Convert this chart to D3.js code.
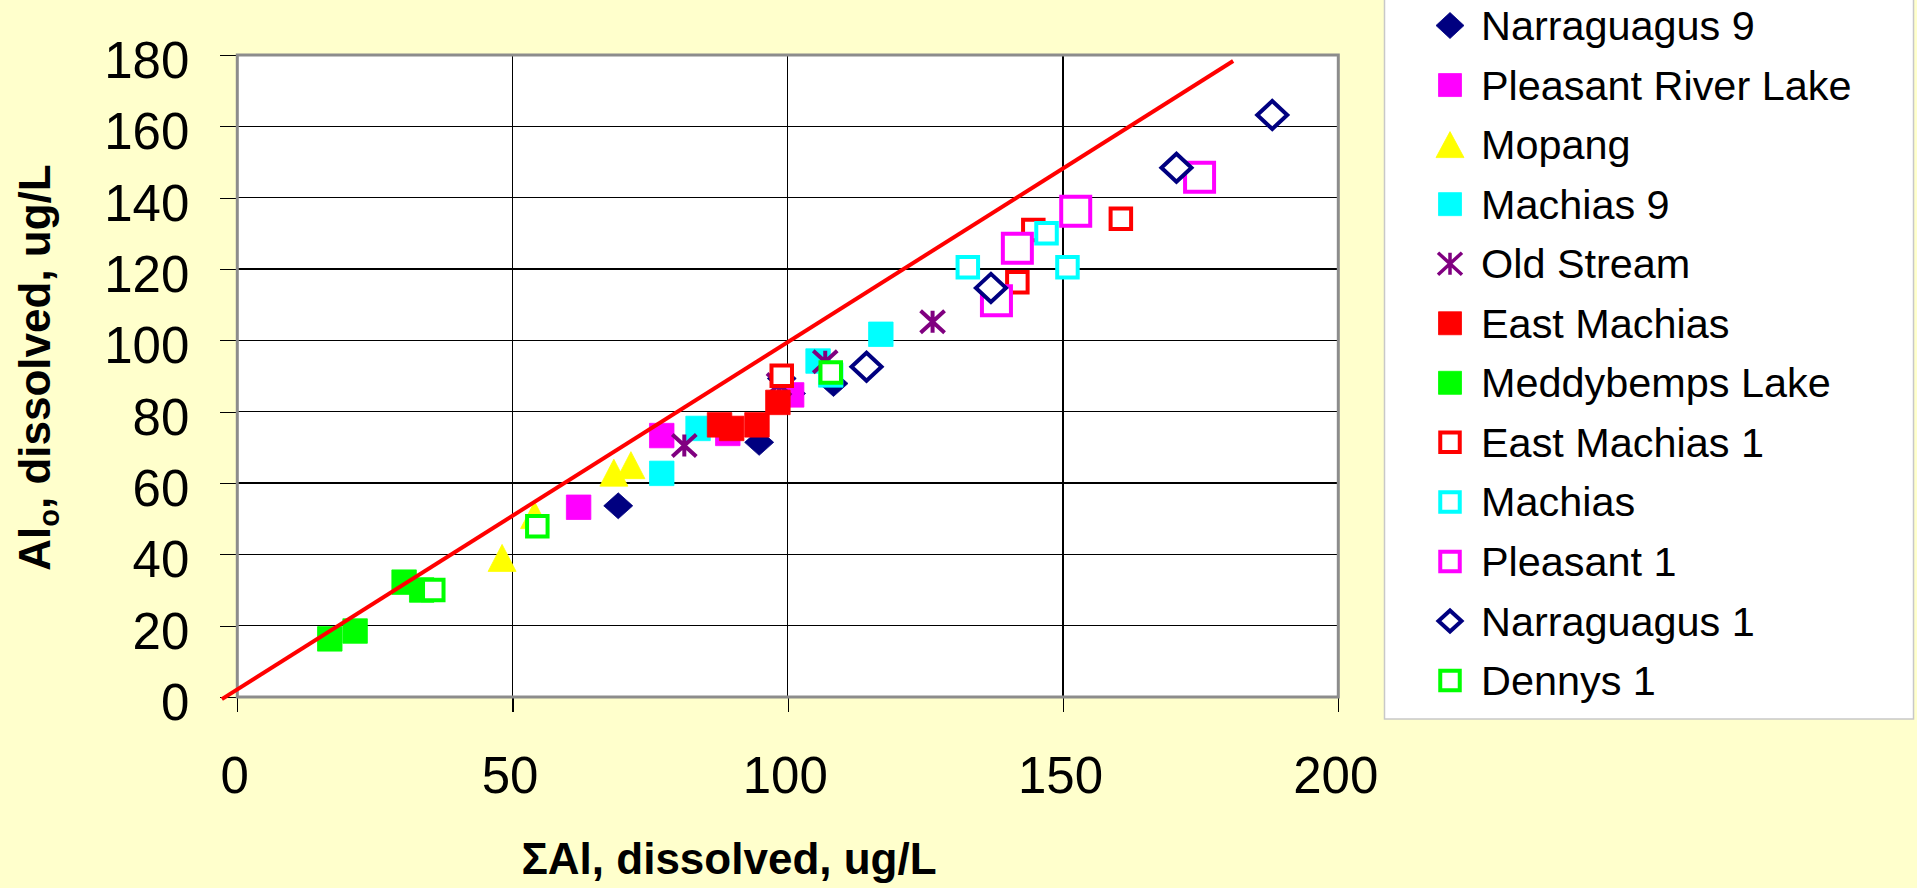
<!DOCTYPE html>
<html>
<head>
<meta charset="utf-8">
<script src="https://cdn.jsdelivr.net/npm/d3@7"></script>
<style>
  html, body { margin: 0; padding: 0; background: #FFFFCC; }
  svg { display: block; font-family: "Liberation Sans", Arial, sans-serif; }
</style>
</head>
<body>
<svg id="chart" width="1917" height="888"></svg>
<script>
// Dissolved aluminium: total (x) vs. organic (y), ug/L, per sampling site
const xTicks = [0, 50, 100, 150, 200];
const yTicks = [0, 20, 40, 60, 80, 100, 120, 140, 160, 180];

const narraguagus9 = [[69.2, 53.6], [94.8, 71.4], [98.9, 89.3], [100.6, 85.1], [108.3, 87.9]];
const pleasantRiverLake = [[62.0, 53.2], [77.1, 73.3], [89.1, 73.9], [100.7, 84.7]];
const mopang = [[48.1, 39.0], [54.0, 51.0], [68.4, 62.9], [71.5, 65.0]];
const machias9 = [[77.1, 62.7], [83.7, 75.3], [105.5, 94.2], [107.8, 90.3], [116.9, 101.7]];
const oldStream = [[81.2, 70.5], [98.4, 87.6], [106.8, 94.0], [126.3, 105.2]];
const eastMachias = [[87.6, 76.3], [89.8, 75.3], [94.4, 76.3], [98.2, 82.6]];
const meddybempsLake = [[16.8, 16.3], [21.4, 18.5], [30.3, 32.2], [33.5, 30.0]];
const eastMachias1 = [[98.9, 90.1], [141.7, 116.3], [144.6, 130.9], [160.5, 134.1]];
const machias = [[132.7, 120.5], [150.8, 120.5], [147.0, 130.0]];
const pleasant1 = [[137.9, 111.1], [141.7, 125.8], [152.3, 136.2], [174.8, 145.7]];
const narraguagus1 = [[114.3, 92.6], [136.9, 114.7], [170.6, 148.4], [188.0, 163.2]];
const dennys1 = [[35.6, 30.0], [54.5, 47.9], [107.8, 91.0]];

// Reference line endpoints (x, y)
const refLine = [[-2.8, -0.6], [180.9, 178.3]];

// Marker geometry helpers
const shapes = {
  diamond: (w, h) => `M0,${-h}L${w},0L0,${h}L${-w},0Z`,
  square: (s) => `M${-s/2},${-s/2}H${s/2}V${s/2}H${-s/2}Z`,
  triangle: (w, h) => `M0,${-h}L${w},${h}L${-w},${h}Z`,
  star: (w, h) => `M${-w},${-h}L${w},${h}M${-w},${h}L${w},${-h}M0,${-h}V${h}`
};

// kind: "solid" filled marker, "open" hollow marker on white, "star" stroked only
const series = [
  { name: "Narraguagus 9", data: narraguagus9, color: "#000080", kind: "solid", path: shapes.diamond(14.5, 13), legend: shapes.diamond(14, 13) },
  { name: "Pleasant River Lake", data: pleasantRiverLake, color: "#FF00FF", kind: "solid", path: shapes.square(24.5), legend: shapes.square(23) },
  { name: "Mopang", data: mopang, color: "#FFFF00", kind: "solid", path: shapes.triangle(14, 13.5), legend: shapes.triangle(14, 13) },
  { name: "Machias 9", data: machias9, color: "#00FFFF", kind: "solid", path: shapes.square(24.5), legend: shapes.square(23) },
  { name: "Old Stream", data: oldStream, color: "#800080", kind: "star", path: shapes.star(12, 11), legend: shapes.star(12, 11) },
  { name: "East Machias", data: eastMachias, color: "#FF0000", kind: "solid", path: shapes.square(24.5), legend: shapes.square(23) },
  { name: "Meddybemps Lake", data: meddybempsLake, color: "#00FF00", kind: "solid", path: shapes.square(24.5), legend: shapes.square(23) },
  { name: "East Machias 1", data: eastMachias1, color: "#FF0000", kind: "open", path: shapes.square(20.5), legend: shapes.square(19.5) },
  { name: "Machias", data: machias, color: "#00FFFF", kind: "open", path: shapes.square(20.5), legend: shapes.square(19.5) },
  { name: "Pleasant 1", data: pleasant1, color: "#FF00FF", kind: "open", path: shapes.square(29), legend: shapes.square(19.5) },
  { name: "Narraguagus 1", data: narraguagus1, color: "#000080", kind: "open", path: shapes.diamond(15, 14), legend: shapes.diamond(11.5, 10.5) },
  { name: "Dennys 1", data: dennys1, color: "#00FF00", kind: "open", path: shapes.square(20.5), legend: shapes.square(19.5) }
];

const fillOf = s => s.kind === "solid" ? s.color : (s.kind === "open" ? "#FFFFFF" : "none");
const widthOf = s => s.kind === "solid" ? 0.8 : 4;

const svg = d3.select("#chart");

const plot = { left: 237.3, right: 1338.3, top: 55, bottom: 697 };

const x = d3.scaleLinear().domain([0, 200]).range([plot.left, plot.right]);
const y = d3.scaleLinear().domain([0, 180]).range([plot.bottom, plot.top]);

// Plot area
svg.append("rect")
  .attr("x", plot.left).attr("y", plot.top)
  .attr("width", plot.right - plot.left).attr("height", plot.bottom - plot.top)
  .attr("fill", "#FFFFFF");

// Gridlines
const grid = svg.append("g").attr("stroke", "#000").attr("stroke-width", 1.2).attr("shape-rendering", "crispEdges");
grid.selectAll("line.h").data(yTicks).join("line").attr("class", "h")
  .attr("x1", plot.left).attr("x2", plot.right)
  .attr("y1", d => y(d)).attr("y2", d => y(d));
grid.selectAll("line.v").data(xTicks).join("line").attr("class", "v")
  .attr("y1", plot.top).attr("y2", plot.bottom)
  .attr("x1", d => x(d)).attr("x2", d => x(d));

// Axes
const yAxis = svg.append("g")
  .attr("transform", `translate(${plot.left},0)`)
  .call(d3.axisLeft(y).tickValues(yTicks).tickSize(17).tickPadding(31).tickFormat(d3.format("d")));
const xAxis = svg.append("g")
  .attr("transform", `translate(0,${plot.bottom})`)
  .call(d3.axisBottom(x).tickValues(xTicks).tickSize(15).tickPadding(60).tickFormat(d3.format("d")));

[yAxis, xAxis].forEach(ax => {
  ax.select(".domain").remove();
  ax.selectAll(".tick line").attr("stroke", "#000").attr("stroke-width", 1.2).attr("shape-rendering", "crispEdges");
  ax.selectAll(".tick text")
    .attr("fill", "#000")
    .style("font-family", "'Liberation Sans', Arial, sans-serif")
    .style("font-size", "51px");
});
yAxis.selectAll(".tick text").attr("dy", "0.44em");
xAxis.selectAll(".tick text").attr("dy", "0.71em").attr("x", -3).attr("y", 60);

// Plot border
svg.append("rect")
  .attr("x", plot.left).attr("y", plot.top)
  .attr("width", plot.right - plot.left).attr("height", plot.bottom - plot.top)
  .attr("fill", "none").attr("stroke", "#8C8C8C").attr("stroke-width", 3);

// Series markers, drawn in series order
const marks = svg.append("g");
series.forEach(s => {
  marks.append("g").selectAll("path").data(s.data).join("path")
    .attr("transform", d => `translate(${x(d[0])},${y(d[1])})`)
    .attr("d", s.path)
    .attr("fill", fillOf(s))
    .attr("stroke", s.color)
    .attr("stroke-width", widthOf(s))
    .attr("stroke-linejoin", "miter");
});

// 1:1 reference line
svg.append("path")
  .datum(refLine)
  .attr("d", d3.line().x(d => x(d[0])).y(d => y(d[1])))
  .attr("stroke", "#FF0000").attr("stroke-width", 4).attr("fill", "none");

// Axis titles
svg.append("text")
  .attr("x", 729).attr("y", 874)
  .attr("text-anchor", "middle")
  .style("font-size", "44px").style("font-weight", "bold")
  .text("ΣAl, dissolved, ug/L");

const yTitle = svg.append("text")
  .attr("transform", "translate(50,367.5) rotate(-90)")
  .attr("text-anchor", "middle")
  .style("font-size", "44px").style("font-weight", "bold");
yTitle.append("tspan").text("Al");
yTitle.append("tspan").attr("dy", 9).style("font-size", "29px").text("o");
yTitle.append("tspan").attr("dy", -9).text(", dissolved, ug/L");

// Legend
const legend = svg.append("g");
legend.append("rect")
  .attr("x", 1384.5).attr("y", -5).attr("width", 529).attr("height", 724)
  .attr("fill", "#FFFFFF").attr("stroke", "#C8C8C8").attr("stroke-width", 1.5);

const rowY = i => 40 + 59.55 * i;
const items = legend.selectAll("g.item").data(series).join("g").attr("class", "item");
items.append("path")
  .attr("transform", (d, i) => `translate(1450,${rowY(i) - 14.5})`)
  .attr("d", d => d.legend)
  .attr("fill", d => fillOf(d))
  .attr("stroke", d => d.color)
  .attr("stroke-width", d => d.kind === "solid" ? 0.8 : (d.kind === "star" ? 3.5 : 4));
items.append("text")
  .attr("x", 1481).attr("y", (d, i) => rowY(i))
  .style("font-size", "41.4px")
  .text(d => d.name);
</script>
</body>
</html>
